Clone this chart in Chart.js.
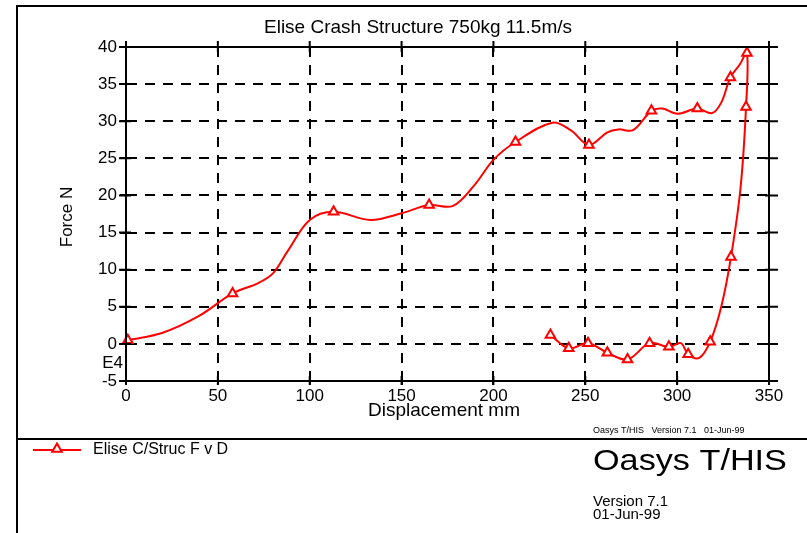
<!DOCTYPE html>
<html>
<head>
<meta charset="utf-8">
<title>Elise Crash Structure</title>
<script src="https://cdn.jsdelivr.net/npm/chart.js@4.4.1/dist/chart.umd.min.js"></script>
<style>
  html, body { margin: 0; padding: 0; background: #fff; }
  #wrap { width: 807px; height: 533px; }
</style>
</head>
<body>
<div id="wrap"><canvas id="fvd" width="807" height="533"></canvas></div>
<script>
// Force vs displacement, loading then unloading (force in units of E4 N)
const dispMm = [1, 20, 40, 58, 72, 80, 88, 100, 113, 133, 150, 165, 178, 190, 200, 212,
  232, 242, 252, 262, 268, 276, 286, 292, 300, 311, 319, 324, 329, 334, 338,
  337.5, 334.5, 329.3, 324, 318, 312, 306, 302, 295.5, 285, 273, 262, 251.5, 241, 231];
const forceE4 = [0.5, 1.5, 3.8, 6.8, 8.2, 9.5, 12.5, 16.7, 17.8, 16.7, 17.6, 18.7, 18.6, 21.5, 24.8, 27.2,
  29.8, 28.8, 26.8, 28.5, 28.9, 28.8, 31.4, 31.7, 31.0, 31.7, 31.1, 32.5, 35.9, 37.6, 39.2,
  31.9, 21.0, 11.7, 5.0, 0.3, -1.9, -1.4, 0.1, -0.4, 0.1, -2.1, -1.2, 0.1, -0.6, 1.2];
const hasMarker = [1, 0, 0, 1, 0, 0, 0, 0, 1, 0, 0, 1, 0, 0, 0, 1,
  0, 0, 1, 0, 0, 0, 1, 0, 0, 1, 0, 0, 1, 0, 1,
  1, 0, 1, 0, 1, 0, 1, 0, 1, 1, 1, 1, 1, 1, 1];

const xRange = [0, 350];
const yRange = [-5, 40];
const seriesLabel = 'Elise C/Struc F v D';

const RED = '#ff0000';
const INK = '#000000';
const FONT = '"Liberation Sans", Arial, Helvetica, sans-serif';

const points = dispMm.map((x, i) => ({ x, y: forceE4[i] }));

// Frame, extra ticks, titles, legend and footer text
const decorations = {
  id: 'decorations',
  beforeDraw(chart) {
    const ctx = chart.ctx;
    ctx.save();
    ctx.fillStyle = '#fff';
    ctx.fillRect(0, 0, chart.width, chart.height);
    ctx.restore();
  },
  afterDraw(chart) {
    const ctx = chart.ctx;
    const { left, right, top, bottom } = chart.chartArea;
    const xs = chart.scales.x, ys = chart.scales.y;
    ctx.save();
    ctx.strokeStyle = INK;
    ctx.lineWidth = 2;

    // page border and divider
    ctx.beginPath();
    ctx.moveTo(17, 533); ctx.lineTo(17, 6); ctx.lineTo(807, 6);
    ctx.moveTo(17, 439); ctx.lineTo(807, 439);
    ctx.stroke();

    // plot frame, each edge running a little past the corner
    ctx.beginPath();
    ctx.moveTo(left, top); ctx.lineTo(right + 9, top);
    ctx.moveTo(left, bottom); ctx.lineTo(right + 9, bottom);
    ctx.moveTo(left, top - 6); ctx.lineTo(left, bottom + 4);
    ctx.moveTo(right, top - 6); ctx.lineTo(right, bottom + 1);
    ctx.stroke();

    // tick marks crossing every side
    ctx.beginPath();
    xs.ticks.forEach(t => {
      const px = xs.getPixelForValue(t.value);
      ctx.moveTo(px, bottom - 5); ctx.lineTo(px, bottom + 4);
      ctx.moveTo(px, top - 6); ctx.lineTo(px, top + 5);
    });
    ys.ticks.forEach(t => {
      const py = ys.getPixelForValue(t.value);
      ctx.moveTo(left - 7, py); ctx.lineTo(left + 5, py);
      ctx.moveTo(right - 4, py); ctx.lineTo(right + 9, py);
    });
    ctx.stroke();

    ctx.fillStyle = INK;
    ctx.textBaseline = 'middle';

    ctx.font = '19px ' + FONT;
    ctx.textAlign = 'center';
    ctx.fillText('Elise Crash Structure 750kg 11.5m/s', 418, 28);
    ctx.fillText('Displacement mm', 444, 411);

    ctx.save();
    ctx.translate(67, 217);
    ctx.rotate(-Math.PI / 2);
    ctx.font = '17px ' + FONT;
    ctx.fillText('Force N', 0, 0);
    ctx.restore();

    ctx.font = '17px ' + FONT;
    ctx.textAlign = 'right';
    ctx.fillText('E4', 123, 363);

    ctx.textAlign = 'left';
    ctx.font = '9px ' + FONT;
    ctx.fillText('Oasys T/HIS   Version 7.1   01-Jun-99', 593, 431);

    ctx.save();
    ctx.translate(593, 462);
    ctx.scale(1.18, 1);
    ctx.font = '29px ' + FONT;
    ctx.fillText('Oasys T/HIS', 0, 0);
    ctx.restore();

    ctx.font = '15px ' + FONT;
    ctx.fillText('Version 7.1', 593, 502);
    ctx.fillText('01-Jun-99', 593, 515);

    // legend entry
    const ds = chart.data.datasets[0];
    ctx.strokeStyle = ds.borderColor;
    ctx.lineWidth = 2;
    ctx.beginPath();
    ctx.moveTo(33, 450); ctx.lineTo(81, 450);
    ctx.stroke();
    ctx.fillStyle = '#fff';
    Chart.helpers.drawPoint(ctx, {
      pointStyle: 'triangle', radius: 5.5, borderWidth: 2, rotation: 0
    }, 57, 449);
    ctx.fillStyle = INK;
    ctx.font = '16px ' + FONT;
    ctx.fillText(seriesLabel, 93, 450);
    ctx.restore();
  }
};

new Chart(document.getElementById('fvd'), {
  type: 'scatter',
  data: {
    datasets: [{
      label: seriesLabel,
      data: points,
      showLine: true,
      borderColor: RED,
      borderWidth: 2,
      tension: 0.35,
      clip: false,
      pointStyle: 'triangle',
      pointRadius: ctx => hasMarker[ctx.dataIndex] ? 5.5 : 0,
      pointBorderColor: RED,
      pointBackgroundColor: '#fff',
      pointBorderWidth: 2
    }]
  },
  options: {
    responsive: false,
    animation: false,
    layout: { padding: { left: 0, top: 47, right: 38, bottom: 0 } },
    plugins: { legend: { display: false }, tooltip: { enabled: false } },
    scales: {
      x: {
        type: 'linear',
        min: xRange[0], max: xRange[1],
        afterFit: s => { s.height = 152; },
        ticks: { stepSize: 50, color: INK, padding: 1, font: { family: FONT, size: 17 } },
        grid: { color: INK, lineWidth: 2, tickLength: 4, tickColor: INK, tickWidth: 2, tickBorderDash: [] },
        border: { display: true, color: INK, width: 2, dash: [10, 8] }
      },
      y: {
        type: 'linear',
        min: yRange[0], max: yRange[1],
        afterFit: s => { s.width = 126; },
        ticks: { stepSize: 5, color: INK, padding: 3, font: { family: FONT, size: 17 } },
        grid: { color: INK, lineWidth: 2, tickLength: 6, tickColor: INK, tickWidth: 2, tickBorderDash: [] },
        border: { display: true, color: INK, width: 2, dash: [10, 8] }
      }
    }
  },
  plugins: [decorations]
});
</script>
</body>
</html>
